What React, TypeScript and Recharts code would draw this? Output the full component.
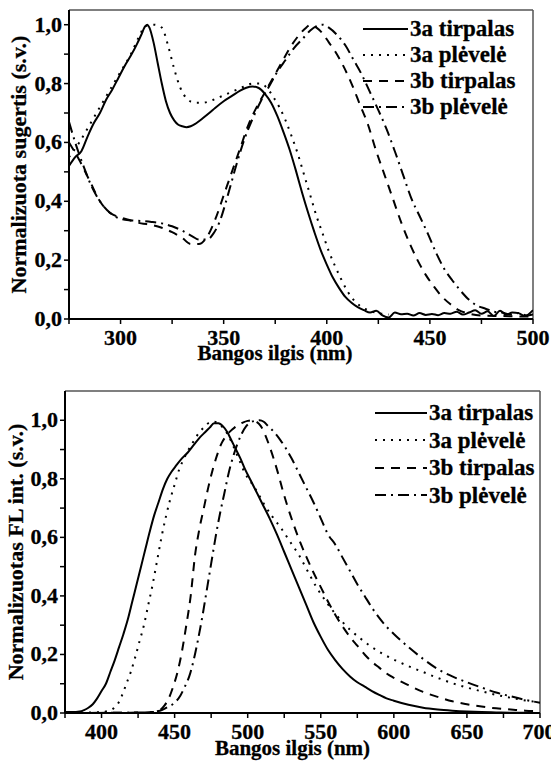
import { LineChart, Line, XAxis, YAxis, ReferenceLine } from 'recharts'

const FONT = '"Liberation Serif", "Times New Roman", serif'

const seriesNames = ['3a tirpalas', '3a plėvelė', '3b tirpalas', '3b plėvelė']

// ---- absorption spectra ----
const abs3aSolX = [275, 278, 281, 284, 287, 290, 293, 296, 299, 302, 305, 308, 310, 312, 313, 314, 316, 318, 320, 322, 324, 326, 328, 330, 332, 334, 336, 338, 340, 343, 346, 350, 354, 358, 361, 364, 367, 370, 373, 376, 379, 382, 385, 388, 391, 394, 397, 400, 403, 406, 409, 412, 415, 418, 421, 424, 427, 430, 433, 436, 439, 442, 445, 448, 451, 454, 457, 460, 463, 466, 469, 472, 475, 478, 481, 484, 487, 490, 493, 496, 500]
const abs3aSolY = [0.52, 0.55, 0.57, 0.62, 0.665, 0.7, 0.745, 0.78, 0.82, 0.86, 0.895, 0.935, 0.965, 0.995, 1.0, 0.99, 0.94, 0.87, 0.8, 0.74, 0.7, 0.675, 0.66, 0.655, 0.652, 0.655, 0.662, 0.672, 0.683, 0.7, 0.718, 0.74, 0.758, 0.776, 0.786, 0.79, 0.785, 0.765, 0.735, 0.69, 0.635, 0.575, 0.505, 0.43, 0.36, 0.295, 0.235, 0.185, 0.14, 0.105, 0.075, 0.055, 0.04, 0.03, 0.022, 0.028, 0.012, 0.005, 0.022, 0.016, 0.018, 0.012, 0.02, 0.014, 0.017, 0.013, 0.02, 0.018, 0.025, 0.015, 0.022, 0.03, 0.018, 0.026, 0.01, 0.028, 0.015, 0.022, 0.02, 0.01, 0.03]

const abs3aFilmX = [275, 280, 285, 290, 295, 300, 305, 309, 312, 316, 320, 323, 326, 329, 332, 336, 340, 345, 350, 355, 360, 364, 368, 371, 374, 377, 380, 383, 386, 389, 392, 395, 398, 401, 404, 407, 410, 413, 416, 420, 425, 430]
const abs3aFilmY = [0.55, 0.6, 0.66, 0.72, 0.78, 0.84, 0.9, 0.96, 0.995, 1.0, 0.99, 0.93, 0.85, 0.785, 0.75, 0.735, 0.735, 0.745, 0.76, 0.775, 0.79, 0.8, 0.8, 0.785, 0.755, 0.72, 0.675, 0.62, 0.56, 0.49, 0.42, 0.35, 0.29, 0.23, 0.18, 0.135, 0.095, 0.065, 0.045, 0.03, 0.02, 0.015]

const abs3bSolX = [275, 280, 285, 290, 295, 300, 305, 310, 315, 320, 325, 330, 334, 338, 342, 346, 350, 354, 358, 362, 366, 370, 374, 378, 382, 386, 390, 392, 395, 398, 401, 404, 408, 412, 416, 420, 424, 428, 432, 436, 440, 444, 448, 452, 456, 460, 464, 468, 475, 485, 500]
const abs3bSolY = [0.6, 0.54, 0.47, 0.4, 0.36, 0.345, 0.335, 0.325, 0.32, 0.31, 0.295, 0.275, 0.255, 0.255, 0.28, 0.34, 0.42, 0.5, 0.58, 0.66, 0.72, 0.77, 0.82, 0.87, 0.92, 0.96, 0.99, 1.0, 0.99, 0.97, 0.94, 0.91, 0.86, 0.8, 0.73, 0.66, 0.57, 0.49, 0.41, 0.33, 0.26, 0.2, 0.15, 0.11, 0.075, 0.05, 0.03, 0.02, 0.012, 0.01, 0.008]

const abs3bFilmX = [275, 278, 282, 286, 290, 295, 300, 305, 310, 315, 320, 325, 330, 335, 338, 342, 345, 348, 352, 356, 360, 364, 368, 372, 376, 380, 384, 388, 392, 395, 398, 401, 405, 409, 413, 417, 421, 425, 429, 433, 437, 441, 445, 449, 453, 457, 461, 465, 469, 473, 477, 481, 485, 489, 493, 497, 500]
const abs3bFilmY = [0.67, 0.6, 0.52, 0.45, 0.4, 0.36, 0.34, 0.335, 0.333, 0.33, 0.325, 0.315, 0.3, 0.28, 0.27, 0.27, 0.29, 0.33, 0.42, 0.52, 0.61, 0.68, 0.74, 0.79, 0.84, 0.88, 0.92, 0.95, 0.98, 0.995, 1.0, 0.99, 0.965, 0.93, 0.88, 0.83, 0.77, 0.71, 0.645, 0.57, 0.49, 0.41, 0.35, 0.29, 0.225, 0.17, 0.13, 0.095, 0.065, 0.045, 0.035, 0.025, 0.022, 0.015, 0.02, 0.012, 0.015]

// ---- fluorescence spectra ----
const fl3aSolX = [375, 380, 385, 388, 391, 394, 397, 400, 403, 406, 409, 412, 415, 418, 421, 424, 427, 430, 433, 436, 439, 442, 445, 448, 451, 455, 459, 463, 467, 471, 474, 477, 480, 483, 486, 489, 492, 495, 498, 502, 506, 510, 515, 520, 525, 530, 535, 540, 545, 550, 555, 560, 565, 570, 575, 580, 585, 590, 595, 600, 610, 620, 630, 640, 650, 660, 670, 680, 690, 700]
const fl3aSolY = [0.003, 0.003, 0.005, 0.01, 0.018, 0.03, 0.05, 0.075, 0.1, 0.14, 0.18, 0.225, 0.27, 0.32, 0.38, 0.44, 0.5, 0.56, 0.62, 0.675, 0.72, 0.765, 0.8, 0.825, 0.845, 0.87, 0.89, 0.915, 0.94, 0.96, 0.975, 0.99, 0.99, 0.98, 0.96, 0.93, 0.9, 0.87, 0.835, 0.795, 0.755, 0.715, 0.665, 0.61, 0.55, 0.49, 0.43, 0.37, 0.31, 0.26, 0.215, 0.18, 0.15, 0.125, 0.105, 0.09, 0.075, 0.062, 0.05, 0.042, 0.028, 0.018, 0.012, 0.008, 0.005, 0.003, 0.002, 0.001, 0.001, 0]

const fl3aFilmX = [375, 390, 400, 405, 408, 411, 414, 417, 420, 423, 426, 429, 432, 435, 438, 441, 444, 447, 450, 453, 456, 459, 462, 465, 468, 471, 474, 477, 480, 483, 486, 489, 492, 495, 498, 502, 506, 511, 517, 523, 529, 535, 541, 547, 553, 559, 565, 571, 577, 583, 589, 595, 601, 610, 620, 630, 640, 650, 660, 670, 680, 690, 700]
const fl3aFilmY = [0.002, 0.002, 0.003, 0.008, 0.015, 0.03, 0.06, 0.1, 0.14, 0.19, 0.245, 0.3, 0.37, 0.44, 0.52, 0.6, 0.67, 0.73, 0.78, 0.83, 0.865, 0.895, 0.92, 0.945, 0.965, 0.98, 0.993, 0.995, 0.99, 0.975, 0.955, 0.925, 0.89, 0.855, 0.82, 0.79, 0.76, 0.715, 0.67, 0.63, 0.585, 0.54, 0.485, 0.43, 0.385, 0.345, 0.31, 0.28, 0.255, 0.232, 0.212, 0.195, 0.18, 0.16, 0.14, 0.12, 0.102, 0.087, 0.074, 0.062, 0.052, 0.043, 0.036]

const fl3bSolX = [375, 420, 435, 440, 443, 446, 449, 452, 455, 458, 461, 464, 467, 470, 473, 476, 479, 482, 485, 488, 491, 494, 497, 500, 503, 506, 509, 512, 515, 518, 521, 524, 527, 531, 535, 540, 545, 550, 555, 560, 565, 570, 575, 580, 585, 590, 595, 600, 610, 620, 630, 640, 650, 660, 670, 680, 690, 700]
const fl3bSolY = [0, 0.001, 0.003, 0.01, 0.025, 0.05, 0.09, 0.14, 0.21, 0.3, 0.4, 0.54, 0.63, 0.7, 0.77, 0.83, 0.88, 0.92, 0.945, 0.962, 0.975, 0.985, 0.993, 0.998, 1.0, 0.995, 0.98, 0.95, 0.91, 0.865, 0.815, 0.76, 0.71, 0.65, 0.595, 0.535, 0.48, 0.43, 0.38, 0.335, 0.295, 0.26, 0.23, 0.2, 0.175, 0.155, 0.135, 0.12, 0.095, 0.072, 0.055, 0.04, 0.03, 0.022, 0.016, 0.012, 0.008, 0.006]

const fl3bFilmX = [375, 430, 440, 445, 450, 454, 457, 460, 463, 466, 469, 472, 475, 478, 481, 484, 487, 490, 493, 496, 499, 502, 505, 508, 511, 514, 518, 522, 526, 530, 535, 540, 545, 550, 555, 560, 565, 570, 575, 580, 585, 590, 595, 600, 610, 620, 630, 640, 650, 660, 670, 680, 690, 700]
const fl3bFilmY = [0, 0.002, 0.008, 0.02, 0.035, 0.06, 0.09, 0.125, 0.18, 0.25, 0.33, 0.42, 0.51, 0.6, 0.68, 0.75, 0.82, 0.875, 0.92, 0.955, 0.98, 0.993, 0.998, 1.0, 0.995, 0.98, 0.96, 0.935, 0.905, 0.87, 0.82, 0.77, 0.72, 0.665, 0.61, 0.575, 0.53, 0.485, 0.44, 0.4, 0.36, 0.325, 0.295, 0.27, 0.225, 0.185, 0.15, 0.125, 0.105, 0.087, 0.07, 0.057, 0.045, 0.035]

const absTicksX = [275, 300, 325, 350, 375, 400, 425, 450, 475, 500]
const absLabelsX = [300, 350, 400, 450, 500]
const flTicksX = [375, 400, 425, 450, 475, 500, 525, 550, 575, 600, 625, 650, 675, 700]
const flLabelsX = [400, 450, 500, 550, 600, 650, 700]
const ticksY = [0, 0.1, 0.2, 0.3, 0.4, 0.5, 0.6, 0.7, 0.8, 0.9, 1.0]
const labelsY = [0, 0.2, 0.4, 0.6, 0.8, 1.0]

const dashes = [undefined, '2 6', '9 7', '11 5 2 5']

const zip = (xs: number[], ys: number[]) => xs.map((x, i) => ({ x, y: ys[i] }))

const absSeries = [zip(abs3aSolX, abs3aSolY), zip(abs3aFilmX, abs3aFilmY), zip(abs3bSolX, abs3bSolY), zip(abs3bFilmX, abs3bFilmY)]
const flSeries = [zip(fl3aSolX, fl3aSolY), zip(fl3aFilmX, fl3aFilmY), zip(fl3bSolX, fl3bSolY), zip(fl3bFilmX, fl3bFilmY)]

// bold serif, with a hairline stroke to thicken the glyphs a little
const textStyle = { fontFamily: FONT, fontWeight: 700, fill: '#000', stroke: '#000', strokeWidth: 0.3 }

function XTick({ x, y, payload, labels }: any) {
  if (!labels.includes(payload.value)) return null
  return (
    <text x={x} y={y} dy={20} textAnchor="middle" fontSize={22} {...textStyle}>
      {payload.value}
    </text>
  )
}

function YTick({ x, y, payload }: any) {
  const v = Math.round(payload.value * 10) / 10
  if (!labelsY.some(l => Math.abs(l - v) < 1e-6)) return null
  return (
    <text x={x} y={y} dx={-1} dy={7} textAnchor="end" fontSize={22} {...textStyle}>
      {v.toFixed(1).replace('.', ',')}
    </text>
  )
}

// legend drawn as an overlay so it doesn't eat into the plot area
function LegendBox({ left, top, lineW, rowH }: { left: number; top: number; lineW: number; rowH: number }) {
  return (
    <div
      style={{
        position: 'absolute',
        left,
        top,
        fontFamily: FONT,
        fontWeight: 700,
        fontSize: 23,
        lineHeight: `${rowH}px`,
        whiteSpace: 'nowrap',
        WebkitTextStroke: '0.3px #000',
      }}
    >
      {seriesNames.map((name, i) => (
        <div key={name} style={{ display: 'flex', alignItems: 'center', height: rowH }}>
          <svg width={lineW} height={6} style={{ marginRight: 2 }}>
            <line x1={0} y1={3} x2={lineW} y2={3} stroke="#000" strokeWidth={2} strokeDasharray={dashes[i]} />
          </svg>
          <span>{name}</span>
        </div>
      ))}
    </div>
  )
}

interface PanelProps {
  width: number
  height: number
  margin: { top: number; right: number; left: number; bottom: number }
  yAxisWidth: number
  xAxisHeight: number
  xDomain: [number, number]
  xTicks: number[]
  xLabels: number[]
  yMax: number
  yTitle: string
  yTitleX: number
  xTitleDx: number
  xTitleDy: number
  series: { x: number; y: number }[][]
  legendLeft: number
  legendTop: number
  legendLineW: number
  legendRowH: number
}

function Panel(p: PanelProps) {
  const plotTop = p.margin.top
  const plotBottom = p.height - p.xAxisHeight - p.margin.bottom
  const yMid = (plotTop + plotBottom) / 2
  return (
    <div style={{ position: 'relative', width: p.width, height: p.height }}>
      <LineChart width={p.width} height={p.height} margin={p.margin}>
        <XAxis
          type="number"
          dataKey="x"
          domain={p.xDomain}
          ticks={p.xTicks}
          allowDataOverflow
          height={p.xAxisHeight}
          tickSize={5}
          tickMargin={1}
          tick={<XTick labels={p.xLabels} />}
          axisLine={{ stroke: '#000', strokeWidth: 2 }}
          tickLine={{ stroke: '#000', strokeWidth: 1.5 }}
          label={{
            content: ({ viewBox }: any) => (
              <text
                x={viewBox.x + viewBox.width / 2 + p.xTitleDx}
                y={viewBox.y + p.xTitleDy}
                textAnchor="middle"
                fontSize={21}
                {...textStyle}
              >
                Bangos ilgis (nm)
              </text>
            ),
          }}
        />
        <YAxis
          type="number"
          domain={[0, p.yMax]}
          ticks={ticksY}
          allowDataOverflow
          width={p.yAxisWidth}
          tickSize={5}
          tickMargin={1}
          tick={<YTick />}
          axisLine={{ stroke: '#000', strokeWidth: 2 }}
          tickLine={{ stroke: '#000', strokeWidth: 1.5 }}
        />
        <ReferenceLine y={p.yMax} stroke="#555" strokeWidth={1.5} />
        <ReferenceLine x={p.xDomain[1]} stroke="#555" strokeWidth={1.5} />
        {p.series.map((data, i) => (
          <Line
            key={seriesNames[i]}
            data={data}
            dataKey="y"
            type="monotone"
            stroke="#000"
            strokeWidth={2}
            strokeDasharray={dashes[i]}
            dot={false}
            isAnimationActive={false}
          />
        ))}
      </LineChart>
      <LegendBox left={p.legendLeft} top={p.legendTop} lineW={p.legendLineW} rowH={p.legendRowH} />
      <svg width={40} height={p.height} style={{ position: 'absolute', left: 0, top: 0, pointerEvents: 'none' }}>
        <text
          x={p.yTitleX}
          y={yMid}
          transform={`rotate(-90 ${p.yTitleX} ${yMid})`}
          textAnchor="middle"
          fontSize={22}
          {...textStyle}
        >
          {p.yTitle}
        </text>
      </svg>
    </div>
  )
}

export default function App() {
  return (
    <div style={{ position: 'absolute', left: 0, top: 0, width: 551, height: 763, background: '#fff' }}>
      <Panel
        width={551}
        height={380}
        margin={{ top: 10, right: 18, left: 0, bottom: 0 }}
        yAxisWidth={69}
        xAxisHeight={61}
        xDomain={[275, 500]}
        xTicks={absTicksX}
        xLabels={absLabelsX}
        yMax={1.05}
        yTitle="Normalizuota sugertis (s.v.)"
        yTitleX={26}
        xTitleDx={-26}
        xTitleDy={41}
        series={absSeries}
        legendLeft={363}
        legendTop={16}
        legendLineW={45}
        legendRowH={26}
      />
      <Panel
        width={551}
        height={383}
        margin={{ top: 11, right: 11, left: 0, bottom: 0 }}
        yAxisWidth={65}
        xAxisHeight={50}
        xDomain={[375, 700]}
        xTicks={flTicksX}
        xLabels={flLabelsX}
        yMax={1.1}
        yTitle="Normalizuotas FL int. (s.v.)"
        yTitleX={23}
        xTitleDx={-10}
        xTitleDy={42}
        series={flSeries}
        legendLeft={375}
        legendTop={19}
        legendLineW={52}
        legendRowH={27.5}
      />
    </div>
  )
}
